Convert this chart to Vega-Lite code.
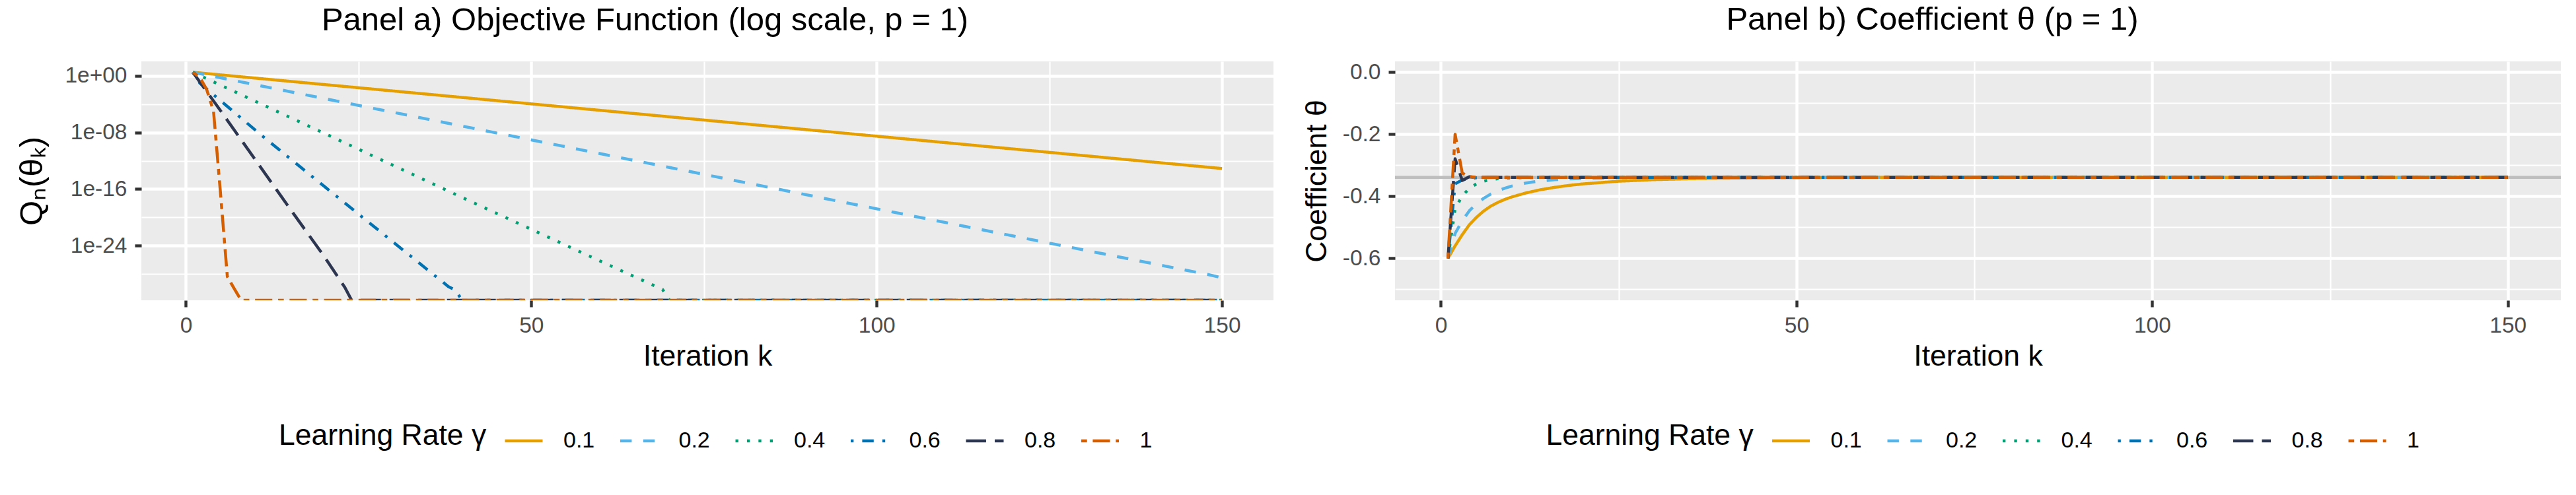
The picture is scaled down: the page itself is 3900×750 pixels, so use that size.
{
  "$schema": "https://vega.github.io/schema/vega-lite/v6.json",
  "background": "white",
  "padding": {"left": 24, "top": 6, "right": 0, "bottom": 0},
  "spacing": 43,
  "config": {
    "font": "Liberation Sans",
    "view": {"fill": "#EBEBEB", "stroke": null},
    "axis": {
      "domain": false,
      "gridColor": "#FFFFFF",
      "tickColor": "#333333",
      "tickSize": 10,
      "tickWidth": 4.4,
      "labelColor": "#4D4D4D",
      "labelFont": "Liberation Sans",
      "labelFontSize": 33.5,
      "labelPadding": 12,
      "titleFont": "Liberation Sans",
      "titleFontSize": 44.5,
      "titleFontWeight": "normal",
      "titleColor": "#000000",
      "labelOverlap": false,
      "labelFlush": false,
      "labelBound": false
    },
    "legend": {
      "symbolType": "stroke",
      "symbolStrokeWidth": 4.7,
      "symbolSize": 3249,
      "labelFont": "Liberation Sans",
      "labelFontSize": 34,
      "labelColor": "#000000",
      "titleFont": "Liberation Sans",
      "titleFontSize": 44.5,
      "titleFontWeight": "normal",
      "titleColor": "#000000",
      "titleLimit": 2000,
      "labelLimit": 500,
      "labelOffset": 29,
      "columnPadding": 35.5,
      "titlePadding": 25,
      "titleBaseline": "middle",
      "titleAnchor": "middle",
      "labelBaseline": "middle"
    },
    "title": {
      "font": "Liberation Sans",
      "fontSize": 49,
      "fontWeight": "normal",
      "color": "#000000",
      "anchor": "middle",
      "frame": "bounds",
      "baseline": "alphabetic",
      "offset": 37
    },
    "line": {"strokeWidth": 4.5, "strokeJoin": "round", "strokeCap": "butt"}
  },
  "resolve": {
    "scale": {"x": "independent", "y": "independent", "color": "independent", "strokeDash": "independent"},
    "legend": {"color": "independent", "strokeDash": "independent"}
  },
  "hconcat": [
    {
      "width": 1714,
      "height": 362,
      "title": "Panel a) Objective Function (log scale, p = 1)",
      "data": {"values": [
        {"gamma": "0.1", "k": 1, "q": 3.24},
        {"gamma": "0.1", "k": 50, "q": 1.1e-4},
        {"gamma": "0.1", "k": 100, "q": 2.95e-9},
        {"gamma": "0.1", "k": 150, "q": 7.94e-14},
        {"gamma": "0.2", "k": 1, "q": 3.24},
        {"gamma": "0.2", "k": 20, "q": 6.3e-4},
        {"gamma": "0.2", "k": 50, "q": 8.9e-10},
        {"gamma": "0.2", "k": 100, "q": 1.58e-19},
        {"gamma": "0.2", "k": 118, "q": 5.0e-23},
        {"gamma": "0.2", "k": 148, "q": 7.9e-29},
        {"gamma": "0.2", "k": 150, "q": 2.8e-29},
        {"gamma": "0.4", "k": 1, "q": 3.24},
        {"gamma": "0.4", "k": 10, "q": 2.7e-4},
        {"gamma": "0.4", "k": 20, "q": 7.9e-9},
        {"gamma": "0.4", "k": 40, "q": 6.3e-18},
        {"gamma": "0.4", "k": 60, "q": 6.3e-27},
        {"gamma": "0.4", "k": 69, "q": 6.3e-31},
        {"gamma": "0.4", "k": 70, "q": 1.82e-32},
        {"gamma": "0.4", "k": 150, "q": 1.82e-32},
        {"gamma": "0.6", "k": 1, "q": 3.24},
        {"gamma": "0.6", "k": 2, "q": 0.1},
        {"gamma": "0.6", "k": 11, "q": 3.5e-9},
        {"gamma": "0.6", "k": 20, "q": 2.5e-16},
        {"gamma": "0.6", "k": 30, "q": 3.2e-24},
        {"gamma": "0.6", "k": 38, "q": 1.6e-30},
        {"gamma": "0.6", "k": 39, "q": 5.0e-31},
        {"gamma": "0.6", "k": 40, "q": 1.82e-32},
        {"gamma": "0.6", "k": 150, "q": 1.82e-32},
        {"gamma": "0.8", "k": 1, "q": 3.24},
        {"gamma": "0.8", "k": 5, "q": 1.26e-5},
        {"gamma": "0.8", "k": 10, "q": 1.6e-12},
        {"gamma": "0.8", "k": 15, "q": 2.0e-19},
        {"gamma": "0.8", "k": 20, "q": 3.2e-26},
        {"gamma": "0.8", "k": 23, "q": 1.26e-30},
        {"gamma": "0.8", "k": 24, "q": 1.82e-32},
        {"gamma": "0.8", "k": 150, "q": 1.82e-32},
        {"gamma": "1", "k": 1, "q": 3.24},
        {"gamma": "1", "k": 2, "q": 0.63},
        {"gamma": "1", "k": 3, "q": 0.0126},
        {"gamma": "1", "k": 4, "q": 1.0e-5},
        {"gamma": "1", "k": 5, "q": 3.2e-17},
        {"gamma": "1", "k": 6, "q": 4.0e-29},
        {"gamma": "1", "k": 7, "q": 7.9e-31},
        {"gamma": "1", "k": 8, "q": 1.82e-32},
        {"gamma": "1", "k": 150, "q": 1.82e-32}
      ]},
      "mark": {"type": "line", "clip": true},
      "encoding": {
        "x": {
          "field": "k", "type": "quantitative",
          "scale": {"domain": [-6.45, 157.45], "nice": false, "zero": false},
          "axis": {
            "title": "Iteration k",
            "titlePadding": 9,
            "values": [0, 25, 50, 75, 100, 125, 150],
            "labelExpr": "datum.value % 50 === 0 ? '' + datum.value : ''",
            "gridWidth": {"condition": {"test": "datum.value % 50 === 0", "value": 4.4}, "value": 2.2},
            "tickOpacity": {"condition": {"test": "datum.value % 50 === 0", "value": 1}, "value": 0}
          }
        },
        "y": {
          "field": "q", "type": "quantitative",
          "scale": {"type": "log", "domain": [1.82e-32, 112.2], "nice": false},
          "axis": {
            "title": "Qₙ(θₖ)",
            "titleFontSize": 49,
            "titlePadding": 24,
            "values": [1, 1e-4, 1e-8, 1e-12, 1e-16, 1e-20, 1e-24, 1e-28],
            "labelExpr": "(abs(round(log(datum.value)/LN10)) % 8 === 0) ? ('1e' + (datum.value >= 0.5 ? '+' : '-') + pad('' + abs(round(log(datum.value)/LN10)), 2, '0', 'left')) : ''",
            "gridWidth": {"condition": {"test": "abs(round(log(datum.value)/LN10)) % 8 === 0", "value": 4.4}, "value": 2.2},
            "tickOpacity": {"condition": {"test": "abs(round(log(datum.value)/LN10)) % 8 === 0", "value": 1}, "value": 0}
          }
        },
        "color": {
          "field": "gamma", "type": "nominal",
          "scale": {"domain": ["0.1", "0.2", "0.4", "0.6", "0.8", "1"], "range": ["#E69F00", "#56B4E9", "#009E73", "#0072B2", "#2D3651", "#D55E00"]},
          "legend": {"title": "Learning Rate γ", "orient": "none", "legendX": 208, "legendY": 544, "direction": "horizontal", "titleOrient": "left"}
        },
        "strokeDash": {
          "field": "gamma", "type": "nominal",
          "scale": {"domain": ["0.1", "0.2", "0.4", "0.6", "0.8", "1"], "range": [[1, 0], [17.4, 17.4], [4.35, 13.05], [4.35, 13.05, 17.4, 13.05], [30.45, 13.05], [8.7, 8.7, 26.1, 8.7]]},
          "legend": {"title": "Learning Rate γ", "orient": "none", "legendX": 208, "legendY": 544, "direction": "horizontal", "titleOrient": "left"}
        }
      }
    },
    {
      "width": 1765,
      "height": 362,
      "title": "Panel b) Coefficient θ (p = 1)",
      "layer": [
        {
          "data": {"values": [{"theta_star": -0.339}]},
          "mark": {"type": "rule", "color": "#BEBEBE", "strokeWidth": 4.5},
          "encoding": {
            "y": {
              "field": "theta_star", "type": "quantitative",
              "scale": {"domain": [-0.7355, 0.035], "nice": false, "zero": false},
              "axis": {
                "title": "Coefficient θ",
                "titlePadding": 15.5,
                "values": [0, -0.1, -0.2, -0.3, -0.4, -0.5, -0.6, -0.7],
                "labelExpr": "abs(round(datum.value*10)) % 2 === 0 ? replace(format(datum.value, '.1f'), '−', '-') : ''",
                "gridWidth": {"condition": {"test": "abs(round(datum.value*10)) % 2 === 0", "value": 4.4}, "value": 2.2},
                "tickOpacity": {"condition": {"test": "abs(round(datum.value*10)) % 2 === 0", "value": 1}, "value": 0}
              }
            }
          }
        },
        {
          "data": {"values": [
            {"gamma": "0.1", "k": 1, "theta": -0.600},
            {"gamma": "0.1", "k": 2, "theta": -0.560},
            {"gamma": "0.1", "k": 3, "theta": -0.524},
            {"gamma": "0.1", "k": 4, "theta": -0.492},
            {"gamma": "0.1", "k": 5, "theta": -0.468},
            {"gamma": "0.1", "k": 6, "theta": -0.448},
            {"gamma": "0.1", "k": 7, "theta": -0.432},
            {"gamma": "0.1", "k": 8, "theta": -0.420},
            {"gamma": "0.1", "k": 9, "theta": -0.410},
            {"gamma": "0.1", "k": 10, "theta": -0.402},
            {"gamma": "0.1", "k": 12, "theta": -0.389},
            {"gamma": "0.1", "k": 14, "theta": -0.379},
            {"gamma": "0.1", "k": 16, "theta": -0.3712},
            {"gamma": "0.1", "k": 18, "theta": -0.3650},
            {"gamma": "0.1", "k": 20, "theta": -0.3601},
            {"gamma": "0.1", "k": 25, "theta": -0.3515},
            {"gamma": "0.1", "k": 30, "theta": -0.3464},
            {"gamma": "0.1", "k": 35, "theta": -0.3434},
            {"gamma": "0.1", "k": 40, "theta": -0.3416},
            {"gamma": "0.1", "k": 45, "theta": -0.3405},
            {"gamma": "0.1", "k": 50, "theta": -0.3399},
            {"gamma": "0.1", "k": 60, "theta": -0.3393},
            {"gamma": "0.1", "k": 80, "theta": -0.3390},
            {"gamma": "0.1", "k": 150, "theta": -0.3390},
            {"gamma": "0.2", "k": 1, "theta": -0.600},
            {"gamma": "0.2", "k": 2, "theta": -0.520},
            {"gamma": "0.2", "k": 3, "theta": -0.479},
            {"gamma": "0.2", "k": 4, "theta": -0.447},
            {"gamma": "0.2", "k": 5, "theta": -0.424},
            {"gamma": "0.2", "k": 6, "theta": -0.407},
            {"gamma": "0.2", "k": 7, "theta": -0.393},
            {"gamma": "0.2", "k": 8, "theta": -0.382},
            {"gamma": "0.2", "k": 9, "theta": -0.374},
            {"gamma": "0.2", "k": 10, "theta": -0.367},
            {"gamma": "0.2", "k": 12, "theta": -0.357},
            {"gamma": "0.2", "k": 14, "theta": -0.3508},
            {"gamma": "0.2", "k": 16, "theta": -0.3467},
            {"gamma": "0.2", "k": 18, "theta": -0.3440},
            {"gamma": "0.2", "k": 20, "theta": -0.3423},
            {"gamma": "0.2", "k": 25, "theta": -0.3401},
            {"gamma": "0.2", "k": 30, "theta": -0.3394},
            {"gamma": "0.2", "k": 40, "theta": -0.3390},
            {"gamma": "0.2", "k": 150, "theta": -0.3390},
            {"gamma": "0.4", "k": 1, "theta": -0.600},
            {"gamma": "0.4", "k": 2, "theta": -0.440},
            {"gamma": "0.4", "k": 3, "theta": -0.399},
            {"gamma": "0.4", "k": 4, "theta": -0.3746},
            {"gamma": "0.4", "k": 5, "theta": -0.360},
            {"gamma": "0.4", "k": 6, "theta": -0.3515},
            {"gamma": "0.4", "k": 7, "theta": -0.3464},
            {"gamma": "0.4", "k": 8, "theta": -0.3434},
            {"gamma": "0.4", "k": 9, "theta": -0.3416},
            {"gamma": "0.4", "k": 10, "theta": -0.3406},
            {"gamma": "0.4", "k": 12, "theta": -0.3396},
            {"gamma": "0.4", "k": 15, "theta": -0.3390},
            {"gamma": "0.4", "k": 150, "theta": -0.3390},
            {"gamma": "0.6", "k": 1, "theta": -0.600},
            {"gamma": "0.6", "k": 2, "theta": -0.360},
            {"gamma": "0.6", "k": 3, "theta": -0.3475},
            {"gamma": "0.6", "k": 4, "theta": -0.3424},
            {"gamma": "0.6", "k": 5, "theta": -0.3404},
            {"gamma": "0.6", "k": 6, "theta": -0.3395},
            {"gamma": "0.6", "k": 8, "theta": -0.3390},
            {"gamma": "0.6", "k": 150, "theta": -0.3390},
            {"gamma": "0.8", "k": 1, "theta": -0.600},
            {"gamma": "0.8", "k": 2, "theta": -0.279},
            {"gamma": "0.8", "k": 3, "theta": -0.349},
            {"gamma": "0.8", "k": 4, "theta": -0.337},
            {"gamma": "0.8", "k": 5, "theta": -0.3392},
            {"gamma": "0.8", "k": 6, "theta": -0.3390},
            {"gamma": "0.8", "k": 150, "theta": -0.3390},
            {"gamma": "1", "k": 1, "theta": -0.600},
            {"gamma": "1", "k": 2, "theta": -0.200},
            {"gamma": "1", "k": 3, "theta": -0.325},
            {"gamma": "1", "k": 4, "theta": -0.337},
            {"gamma": "1", "k": 5, "theta": -0.3390},
            {"gamma": "1", "k": 150, "theta": -0.3390}
          ]},
          "mark": {"type": "line", "clip": true},
          "encoding": {
            "x": {
              "field": "k", "type": "quantitative",
              "scale": {"domain": [-6.45, 157.45], "nice": false, "zero": false},
              "axis": {
                "title": "Iteration k",
                "titlePadding": 9,
                "values": [0, 25, 50, 75, 100, 125, 150],
                "labelExpr": "datum.value % 50 === 0 ? '' + datum.value : ''",
                "gridWidth": {"condition": {"test": "datum.value % 50 === 0", "value": 4.4}, "value": 2.2},
                "tickOpacity": {"condition": {"test": "datum.value % 50 === 0", "value": 1}, "value": 0}
              }
            },
            "y": {
              "field": "theta", "type": "quantitative",
              "scale": {"domain": [-0.7355, 0.035], "nice": false, "zero": false},
              "axis": {
                "title": "Coefficient θ",
                "titlePadding": 15.5,
                "values": [0, -0.1, -0.2, -0.3, -0.4, -0.5, -0.6, -0.7],
                "labelExpr": "abs(round(datum.value*10)) % 2 === 0 ? replace(format(datum.value, '.1f'), '−', '-') : ''",
                "gridWidth": {"condition": {"test": "abs(round(datum.value*10)) % 2 === 0", "value": 4.4}, "value": 2.2},
                "tickOpacity": {"condition": {"test": "abs(round(datum.value*10)) % 2 === 0", "value": 1}, "value": 0}
              }
            },
            "color": {
              "field": "gamma", "type": "nominal",
              "scale": {"domain": ["0.1", "0.2", "0.4", "0.6", "0.8", "1"], "range": ["#E69F00", "#56B4E9", "#009E73", "#0072B2", "#2D3651", "#D55E00"]},
              "legend": {"title": "Learning Rate γ", "orient": "none", "legendX": 228.5, "legendY": 544, "direction": "horizontal", "titleOrient": "left"}
            },
            "strokeDash": {
              "field": "gamma", "type": "nominal",
              "scale": {"domain": ["0.1", "0.2", "0.4", "0.6", "0.8", "1"], "range": [[1, 0], [17.4, 17.4], [4.35, 13.05], [4.35, 13.05, 17.4, 13.05], [30.45, 13.05], [8.7, 8.7, 26.1, 8.7]]},
              "legend": {"title": "Learning Rate γ", "orient": "none", "legendX": 228.5, "legendY": 544, "direction": "horizontal", "titleOrient": "left"}
            }
          }
        }
      ]
    }
  ]
}
